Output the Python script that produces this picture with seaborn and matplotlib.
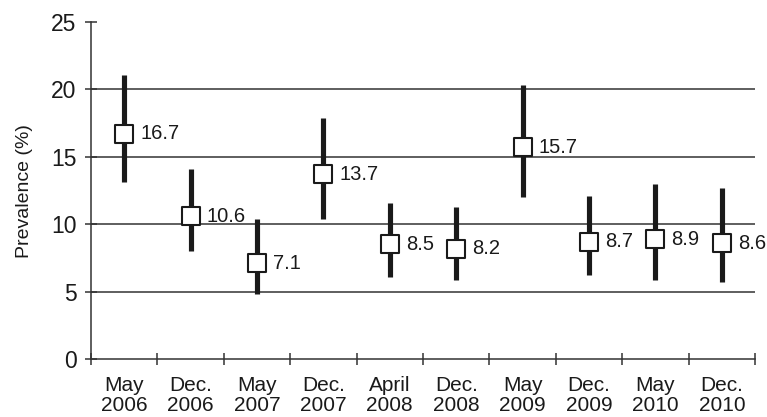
import numpy as np
import pandas as pd
import matplotlib
matplotlib.use("Agg")
import matplotlib.pyplot as plt
import seaborn as sns

# survey rounds and prevalence with 95% CI
periods = ["May\n2006", "Dec.\n2006", "May\n2007", "Dec.\n2007", "April\n2008",
           "Dec.\n2008", "May\n2009", "Dec.\n2009", "May\n2010", "Dec.\n2010"]
prevalence = [16.7, 10.6, 7.1, 13.7, 8.5, 8.2, 15.7, 8.7, 8.9, 8.6]
ci_low = [13.1, 8.0, 4.8, 10.4, 6.1, 5.9, 12.0, 6.2, 5.9, 5.7]
ci_high = [21.1, 14.1, 10.4, 17.9, 11.6, 11.3, 20.3, 12.1, 13.0, 12.7]

df = pd.DataFrame({"period": periods, "prev": prevalence,
                   "lo": ci_low, "hi": ci_high})

sns.set_style("ticks")
plt.rcParams["font.family"] = ["Liberation Sans", "DejaVu Sans"]
ink = "#1a1a1a"

fig = plt.figure(figsize=(7.67, 4.17), dpi=100)
ax = fig.add_axes([0.1186, 0.139, 0.8658, 0.808])

# horizontal reference lines
for y in [5, 10, 15, 20]:
    ax.axhline(y, color="#333333", lw=1.1, zorder=1)

pos = np.arange(len(df))
ax.vlines(pos, df["lo"], df["hi"], color=ink, lw=3.7, zorder=2)
sns.scatterplot(data=df, x="period", y="prev", marker="s", s=155,
                color="white", edgecolor=ink, linewidth=1.5, zorder=3,
                ax=ax, legend=False)

for i, v in enumerate(df["prev"]):
    ax.annotate(f"{v:.1f}", (i, v), xytext=(11.5, 0), textcoords="offset points",
                ha="left", va="center", fontsize=14.5, color=ink,
                annotation_clip=False)

ax.set_xlim(-0.5, len(df) - 0.5)
ax.set_ylim(0, 25)
ax.set_yticks([0, 5, 10, 15, 20, 25])
ax.set_xticks(pos)
ax.set_xticklabels(periods, fontsize=15, color=ink, linespacing=1.1)
ax.set_xticks(np.arange(-0.5, len(df)), minor=True)
ax.tick_params(axis="x", which="major", length=0, pad=12)
ax.tick_params(axis="x", which="minor", direction="inout", length=9,
               width=1.1, color="#333333")
ax.tick_params(axis="y", direction="inout", length=9, width=1.1,
               color="#333333", labelsize=16.5, labelcolor=ink, pad=6)

ax.set_xlabel("")
ax.set_ylabel("Prevalence (%)", fontsize=14, color=ink, labelpad=13)

sns.despine(ax=ax)
ax.spines["left"].set_color("#333333")
ax.spines["bottom"].set_color("#333333")
ax.spines["left"].set_linewidth(1.1)
ax.spines["bottom"].set_linewidth(1.1)

fig.savefig("out.png", dpi=100)
